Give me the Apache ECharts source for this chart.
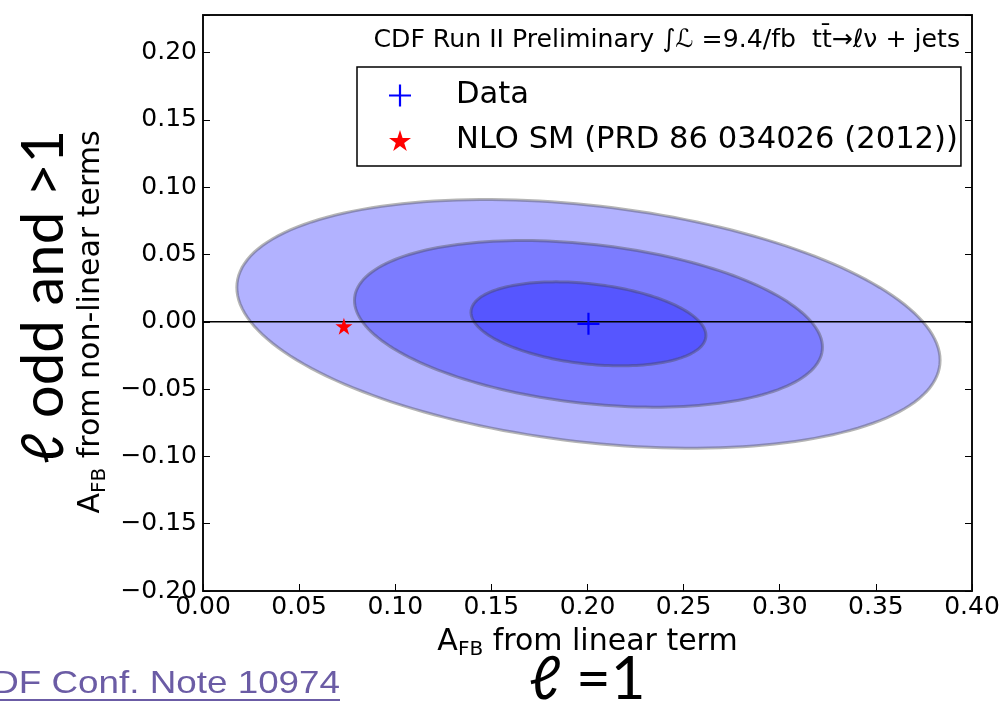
<!DOCTYPE html>
<html>
<head>
<meta charset="utf-8">
<script src="https://cdn.jsdelivr.net/npm/echarts@6/dist/echarts.min.js"></script>
<style>html,body{margin:0;padding:0;background:#fff;}#c{width:1006px;height:705px;}</style>
</head>
<body>
<div id="c"></div>
<script>
// ---- data ----
const xTickValues = [0.00, 0.05, 0.10, 0.15, 0.20, 0.25, 0.30, 0.35, 0.40];
const yTickValues = [-0.20, -0.15, -0.10, -0.05, 0.00, 0.05, 0.10, 0.15, 0.20];
const contourLevels = ['1σ', '2σ', '3σ'];
const contourCenterX = [0.2005, 0.2005, 0.2005];
const contourCenterY = [-0.0015, -0.0015, -0.0015];
const contourHalfWidthX = [0.0611, 0.1217, 0.1829];
const contourHalfHeightY = [0.0312, 0.0619, 0.0924];
const contourCorrelation = [-0.276, -0.281, -0.293];
const dataPoint = [[0.2005, -0.0015]];
const smPoint = [[0.0733, -0.0033]];
const zeroLine = [[0.0, 0.0], [0.4, 0.0]];

const PLUS = 'path://M9,0h2v20h-2z M0,9h20v2h-20z';
const STAR = 'path://M50,0 L61.2,34.5 L97.6,34.5 L68.2,55.9 L79.4,90.5 L50,69.1 L20.6,90.5 L31.8,55.9 L2.4,34.5 L38.8,34.5 Z';

// contours drawn largest first so the fills stack
const contourData = contourLevels.map((name, i) => [contourCenterX[i], contourCenterY[i], contourHalfWidthX[i], contourHalfHeightY[i], contourCorrelation[i]]).reverse();

function isTick(v) { return Math.abs(Math.round(v / 0.05) * 0.05 - v) < 1e-6; }
function fmt(v) {
  if (!isTick(v)) return '';
  const s = Math.abs(v).toFixed(2);
  return v < -1e-9 ? '\u2212' + s : s;
}

const chart = echarts.init(document.getElementById('c'));
const FONT = 'DejaVu Sans';
chart.setOption({
  backgroundColor: '#fff',
  animation: false,
  title: {
    text: 'CDF Run II Preliminary \u222B\u2112 =9.4/fb  tt\u0304\u2192\u2113\u03BD + jets',
    right: 41, top: 23,
    textStyle: { fontFamily: FONT, fontSize: 25.2, fontWeight: 'normal', color: '#000' }
  },
  legend: {
    orient: 'vertical', left: 357, top: 67,
    padding: [13, 3, 10, 32],
    borderColor: '#000', borderWidth: 1.5, borderRadius: 0,
    itemWidth: 22, itemHeight: 22, itemGap: 14,
    textStyle: { fontFamily: FONT, fontSize: 30.6, color: '#000', padding: [0, 0, 0, 40] },
    data: [
      { name: 'Data', icon: PLUS, itemStyle: { color: '#0000ff' } },
      { name: 'NLO SM (PRD 86 034026 (2012))', icon: STAR, itemStyle: { color: '#ff0000' } }
    ]
  },
  grid: { left: 203, right: 34, top: 15, bottom: 114 },
  xAxis: [{
    type: 'value', min: 0, max: 0.4, interval: 0.05, position: 'bottom',
    name: '{a|A}{s|FB}{a| from linear term}', nameLocation: 'middle', nameGap: 33,
    nameTextStyle: { rich: {
      a: { fontFamily: FONT, fontSize: 30, color: '#000' },
      s: { fontFamily: FONT, fontSize: 20, color: '#000', padding: [16, 0, 0, 0] }
    } },
    axisLine: { show: true, onZero: false, lineStyle: { color: '#111', width: 2 } },
    axisTick: { show: true, inside: true, length: 7, lineStyle: { color: '#000', width: 1 } },
    axisLabel: { fontFamily: FONT, fontSize: 25, color: '#000', margin: 4, formatter: fmt },
    splitLine: { show: false }
  }, {
    type: 'value', min: 0, max: 0.4, interval: 0.05, position: 'top',
    axisLine: { show: true, onZero: false, lineStyle: { color: '#111', width: 2 } },
    axisTick: { show: false }, axisLabel: { show: false }, splitLine: { show: false }
  }],
  yAxis: [{
    type: 'value', min: -0.2, max: 0.228, interval: 0.05, position: 'left',
    name: '{a|A}{s|FB}{a| from non-linear terms}', nameLocation: 'middle', nameGap: 93,
    nameTextStyle: { padding: [0, 38, 0, 0], rich: {
      a: { fontFamily: FONT, fontSize: 30, color: '#000' },
      s: { fontFamily: FONT, fontSize: 20, color: '#000', padding: [16, 0, 0, 0] }
    } },
    axisLine: { show: true, onZero: false, lineStyle: { color: '#111', width: 2 } },
    axisTick: { show: true, inside: true, length: 7, lineStyle: { color: '#000', width: 1 } },
    axisLabel: { fontFamily: FONT, fontSize: 25, color: '#000', margin: 6, formatter: fmt },
    splitLine: { show: false }
  }, {
    type: 'value', min: -0.2, max: 0.228, interval: 0.05, position: 'right',
    axisLine: { show: true, onZero: false, lineStyle: { color: '#111', width: 2 } },
    axisTick: { show: true, inside: true, length: 7, lineStyle: { color: '#000', width: 1 } },
    axisLabel: { show: false }, splitLine: { show: false }
  }],
  series: [
    {
      type: 'custom', name: 'contours', z: 1, silent: true,
      data: contourData,
      renderItem: function (params, api) {
        const cx = api.value(0), cy = api.value(1), sx = api.value(2), sy = api.value(3), r = api.value(4);
        const q = Math.sqrt(1 - r * r);
        const pts = [];
        const N = 180;
        for (let k = 0; k < N; k++) {
          const t = 2 * Math.PI * k / N;
          pts.push(api.coord([cx + sx * Math.cos(t), cy + sy * (r * Math.cos(t) + q * Math.sin(t))]));
        }
        return {
          type: 'polygon',
          shape: { points: pts },
          style: { fill: 'rgba(0,0,255,0.3)', stroke: 'rgba(70,70,70,0.4)', lineWidth: 3 }
        };
      }
    },
    {
      type: 'line', name: 'zero', z: 2, silent: true, data: zeroLine,
      symbol: 'none', lineStyle: { color: '#000', width: 1.5 }
    },
    {
      type: 'scatter', name: 'NLO SM (PRD 86 034026 (2012))', z: 3, data: smPoint,
      symbol: STAR, symbolSize: 17, itemStyle: { color: '#ff0000', opacity: 1 }
    },
    {
      type: 'scatter', name: 'Data', z: 4, data: dataPoint,
      symbol: PLUS, symbolSize: 22, itemStyle: { color: '#0000ff', opacity: 1 }
    }
  ],
  graphic: [
    {
      type: 'text', x: 44, y: 297, rotation: Math.PI / 2,
      style: { text: '\u2113 odd and >1', fontFamily: 'Lato', fontWeight: 'normal', fontSize: 58, fill: '#000', align: 'center', verticalAlign: 'middle' }
    },
    {
      type: 'text', x: 587, y: 650,
      style: { text: '\u2113 =1', fontFamily: 'Lato', fontWeight: 'normal', fontSize: 60, fill: '#000', align: 'center', verticalAlign: 'top' }
    },
    {
      type: 'text', x: 340, y: 684, scaleX: 1.15,
      style: { text: 'CDF Conf. Note 10974', fontFamily: 'Liberation Sans', fontSize: 32, fill: '#6b5ca5', align: 'right', verticalAlign: 'middle' }
    },
    {
      type: 'line', shape: { x1: 0, y1: 700, x2: 340, y2: 700 },
      style: { stroke: '#6b5ca5', lineWidth: 2 }
    }
  ]
});
</script>
</body>
</html>
